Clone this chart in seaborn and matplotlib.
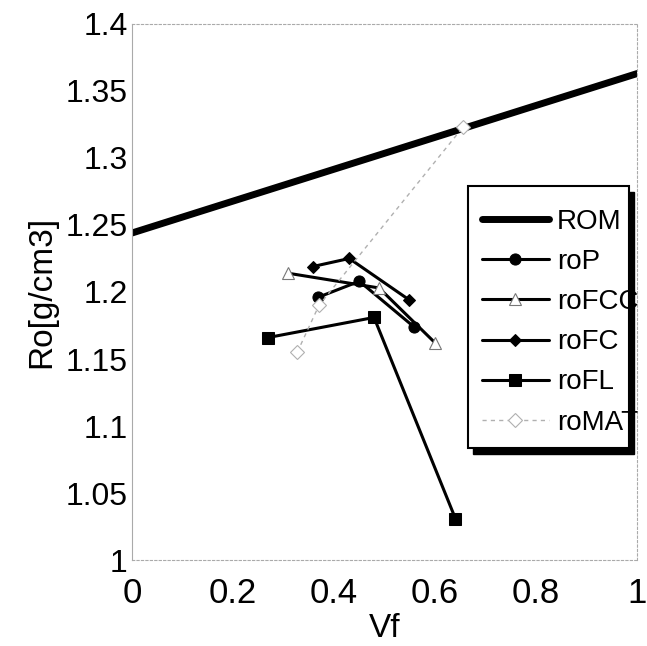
import matplotlib
matplotlib.use("Agg")
import matplotlib.pyplot as plt
from matplotlib.patches import Rectangle
import seaborn as sns
import pandas as pd

# ---- data ----
rom_x = [0.0, 1.0]
rom_y = [1.244, 1.363]

roP_x = [0.368, 0.450, 0.558]
roP_y = [1.196, 1.208, 1.174]

roFCC_x = [0.309, 0.489, 0.600]
roFCC_y = [1.214, 1.203, 1.162]

roFC_x = [0.358, 0.430, 0.549]
roFC_y = [1.219, 1.225, 1.194]

roFL_x = [0.269, 0.479, 0.640]
roFL_y = [1.166, 1.181, 1.031]

roMAT_x = [0.327, 0.370, 0.655]
roMAT_y = [1.155, 1.190, 1.323]

x_ticks = [0, 0.2, 0.4, 0.6, 0.8, 1]
y_ticks = [1, 1.05, 1.1, 1.15, 1.2, 1.25, 1.3, 1.35, 1.4]

sns.set_theme(style="white")
plt.rcParams['font.family'] = ['Liberation Sans', 'DejaVu Sans']
plt.rcParams['text.color'] = 'black'
plt.rcParams['axes.labelcolor'] = 'black'

fig = plt.figure(figsize=(6.47, 6.46), dpi=100)
ax = fig.add_axes([0.204, 0.133, 0.781, 0.830])

series = [
    ("ROM", rom_x, rom_y, dict(color="black", linewidth=5, marker=None)),
    ("roP", roP_x, roP_y, dict(color="black", linewidth=2.2, marker="o",
                               markersize=8, markerfacecolor="black", markeredgecolor="black")),
    ("roFCC", roFCC_x, roFCC_y, dict(color="black", linewidth=2.2, marker="^",
                                     markersize=8, markerfacecolor="white", markeredgecolor="#777777",
                                     markeredgewidth=0.8)),
    ("roFC", roFC_x, roFC_y, dict(color="black", linewidth=2.2, marker="D",
                                  markersize=6, markerfacecolor="black", markeredgecolor="black")),
    ("roFL", roFL_x, roFL_y, dict(color="black", linewidth=2.2, marker="s",
                                  markersize=8, markerfacecolor="black", markeredgecolor="black")),
    ("roMAT", roMAT_x, roMAT_y, dict(color="#b0b0b0", linewidth=1.0, linestyle=(0, (3, 3)), marker="D",
                                     markersize=7, markerfacecolor="white", markeredgecolor="#b0b0b0",
                                     markeredgewidth=0.8)),
]

for name, xs, ys, kw in series:
    df = pd.DataFrame({"x": xs, "y": ys})
    sns.lineplot(data=df, x="x", y="y", ax=ax, sort=False, label=name, **kw)

ax.set_xlim(0, 1)
ax.set_ylim(1, 1.4)
ax.set_xticks(x_ticks)
ax.set_xticklabels([f"{t:g}" for t in x_ticks])
ax.set_yticks(y_ticks)
ax.set_yticklabels([f"{t:g}" for t in y_ticks])
ax.tick_params(axis="both", direction="in", length=5, width=0.6, color="#bbbbbb",
               labelcolor="black")
ax.tick_params(axis="x", labelsize=25, pad=12)
ax.tick_params(axis="y", labelsize=23, pad=3)
for s in ax.spines.values():
    s.set_color("#aaaaaa")
    s.set_linewidth(0.8)
    s.set_linestyle((0, (2, 2)))
ax.spines["left"].set_linestyle("-")

ax.set_xlabel("Vf", fontsize=24, labelpad=2, color="black")
ax.set_ylabel("Ro[g/cm3]", fontsize=24, labelpad=6, color="black")

# legend box (frame + black shadow) drawn in axes fraction
bx0, by0, bw, bh = 0.665, 0.209, 0.319, 0.489
shadow = Rectangle((bx0 + 0.010, by0 - 0.011), bw, bh, transform=ax.transAxes,
                   facecolor="black", edgecolor="black", zorder=5, clip_on=False)
frame = Rectangle((bx0, by0), bw, bh, transform=ax.transAxes,
                  facecolor="white", edgecolor="black", linewidth=1.5, zorder=6, clip_on=False)
ax.add_patch(shadow)
ax.add_patch(frame)

leg = ax.legend(loc="upper left", bbox_to_anchor=(0.665, 0.681), fontsize=20,
                frameon=False, handlelength=2.4, handletextpad=0.3, labelspacing=0.51,
                borderpad=0.5, borderaxespad=0)
leg.set_zorder(10)
for t in leg.get_texts():
    t.set_color("black")

fig.savefig("out.png", dpi=100, facecolor="white")
